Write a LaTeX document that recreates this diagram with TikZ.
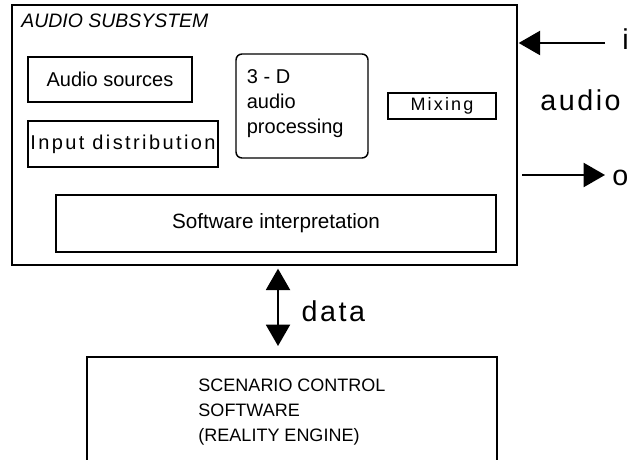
\documentclass[tikz,border=0pt]{standalone}
\usepackage{fontspec}
\setmainfont{Liberation Sans}
\newfontfamily\sigfont[LetterSpace=9]{Liberation Sans}
\newfontfamily\widefont[LetterSpace=12]{Liberation Sans}
\usetikzlibrary{arrows.meta}

\begin{document}
\begin{tikzpicture}[
    x=0.75pt, y=-0.75pt,
    box/.style={draw, line width=1.5pt, inner sep=0pt, align=center, font=\fontsize{15}{18.75}\selectfont},
    sig/.style={inner sep=0pt, font=\sigfont\fontsize{21.5}{24}\selectfont},
    link/.style={line width=1.5pt, -{Triangle[length=16pt, width=18pt]}}
  ]
    \path[use as bounding box, clip] (0,0) rectangle (639,460);

    % --- audio subsystem ---
    \node[box, minimum width=378.75pt, minimum height=195pt] (sub) at (264.5,135) {};
    \node[anchor=base west, inner sep=0pt, font=\itshape\fontsize{14.6}{16}\selectfont] (title) at (21,28) {AUDIO SUBSYSTEM};

    % Blocchi interni
    \node[box, minimum width=123pt, minimum height=33.75pt] (src) at (110,79.5) {Audio sources};
    \node[box, minimum width=142.5pt, minimum height=34.5pt, font=\widefont\fontsize{15}{18}\selectfont] (dist) at (123,144) {Input distribution};
    \node[box, line width=1.1pt, rounded corners=4.5pt, minimum width=99pt, minimum height=78pt, align=left] (proc) at (302,106) {};
    \node[anchor=north west, inner sep=0pt, align=left, font=\fontsize{15}{18.75}\selectfont] (proctxt) at ([xshift=8.5pt, yshift=-12pt]proc.north west) {3 - D\\audio\\processing};
    \node[box, line width=1.1pt, minimum width=81pt, minimum height=19.5pt, font=\widefont\fontsize{13.5}{16}\selectfont] (mix) at (442,106) {Mixing};
    \node[box, minimum width=330pt, minimum height=42.75pt, font=\fontsize{15.5}{18}\selectfont] (interp) at (276,223.5) {Software interpretation};

    % Segnali audio
    \node[sig, anchor=base west] (in) at (622,50) {i};
    \node[sig, anchor=base west] (aud) at (540,111) {audio};
    \node[sig, anchor=base west] (out) at (612,185) {o};
    \coordinate (inend) at (605,43);
    \coordinate (outend) at (605,175);
    \draw[link, shorten >=0.5pt] (inend) -- (sub.east |- inend);
    \draw[link, shorten <=3pt] (sub.east |- outend) -- (outend);

    % --- scenario control ---
    \node[box, minimum width=307.5pt, minimum height=82.5pt, align=left, font=\fontsize{13.5}{18.75}\selectfont] (scen) at (292,412) {SCENARIO CONTROL\\SOFTWARE\\(REALITY ENGINE)};

    % Dati
    \coordinate (dlink) at (278,0);
    \draw[link, {Triangle[length=16pt, width=18pt]}-{Triangle[length=16pt, width=18pt]}, shorten <=2pt, shorten >=7.5pt]
      (dlink |- sub.south) -- (dlink |- scen.north)
      node[sig, midway, anchor=west, xshift=17pt] (data) {data};
  \end{tikzpicture}
\end{document}
